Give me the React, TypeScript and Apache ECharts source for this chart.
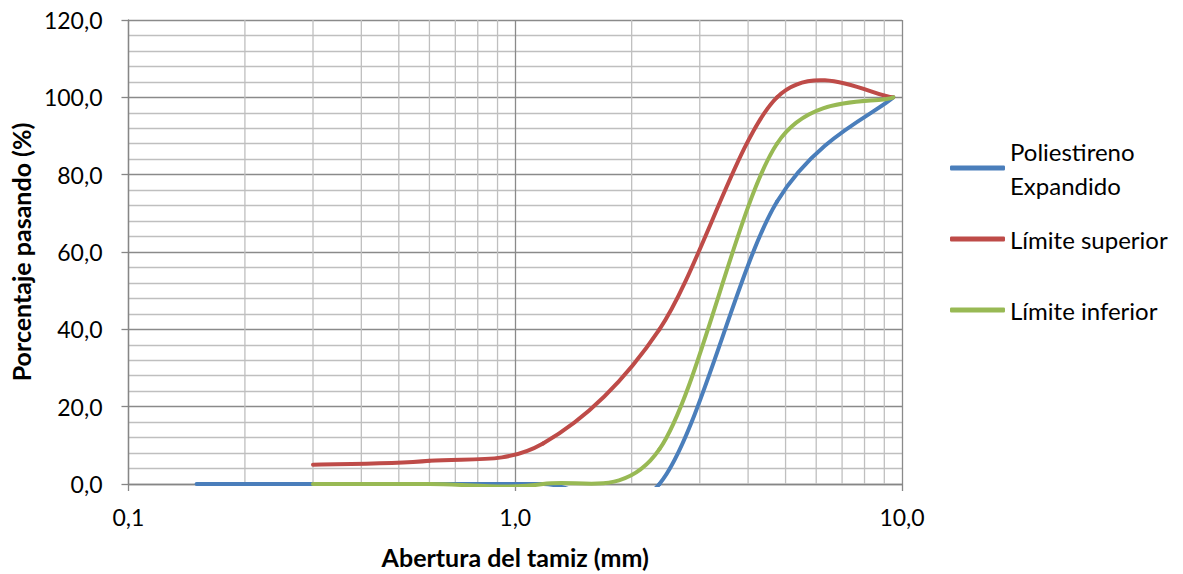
import React, { useEffect, useRef } from "react";
import * as echarts from "echarts";

// Sieve openings (mm) and percentage passing for each curve
const sieveOpenings = [0.15, 0.3, 0.6, 1.18, 2.36, 4.75, 9.5];
const poliestireno = [0, 0, 0, 0, 0, 73, 100];
const limiteSuperiorSieves = [0.3, 0.6, 1.18, 2.36, 4.75, 9.5];
const limiteSuperior = [5, 6, 10.5, 40, 100, 100];
const limiteInferiorSieves = [0.3, 0.6, 1.18, 2.36, 4.75, 9.5];
const limiteInferior = [0, 0, 0, 9, 88, 100];

// Secondary vertical grid positions on the log axis
const minorX = [0.2, 0.3, 0.4, 0.5, 0.6, 0.7, 0.8, 0.9, 2, 3, 4, 5, 6, 7, 8, 9];

const FONT = "Lato";
const fmt = (v: number) => v.toFixed(1).replace(".", ",");
const pairs = (xs: number[], ys: number[]) => xs.map((x, i) => [x, ys[i]]);
const dist = (a: number[], b: number[]) => Math.hypot(a[0] - b[0], a[1] - b[1]);

// Smoothed scatter line: one cubic Bezier per segment, control arms taken from
// the neighbouring points (1/6 of the neighbour chord, limited to half the segment).
function smoothCurveSeries(name: string, data: number[][], color: string) {
  return {
    name,
    type: "custom",
    z: 3,
    clip: false,
    silent: true,
    itemStyle: { color },
    data,
    renderItem: (params: any, api: any) => {
      const i = params.dataIndex;
      const n = data.length;
      if (i >= n - 1) return null;
      const pt = (k: number) => api.coord(data[Math.max(0, Math.min(n - 1, k))]);
      const p0 = pt(i - 1);
      const p1 = pt(i);
      const p2 = pt(i + 1);
      const p3 = pt(i + 2);
      const d12 = dist(p1, p2);
      const d02 = dist(p0, p2);
      const d13 = dist(p1, p3);
      const f1 = d02 > 0 ? Math.min(1 / 6, d12 / (2 * d02)) : 0;
      const f2 = d13 > 0 ? Math.min(1 / 6, d12 / (2 * d13)) : 0;
      const cs = params.coordSys;
      return {
        type: "bezierCurve",
        shape: {
          x1: p1[0],
          y1: p1[1],
          x2: p2[0],
          y2: p2[1],
          cpx1: p1[0] + (p2[0] - p0[0]) * f1,
          cpy1: p1[1] + (p2[1] - p0[1]) * f1,
          cpx2: p2[0] - (p3[0] - p1[0]) * f2,
          cpy2: p2[1] - (p3[1] - p1[1]) * f2,
        },
        // plot-area clip, with room for the stroke along the zero line
        clipPath: {
          type: "rect",
          shape: { x: cs.x - 4, y: cs.y - 4, width: cs.width + 8, height: cs.height + 7 },
        },
        style: { stroke: color, lineWidth: 4, fill: null, lineCap: "round" },
      };
    },
  };
}

export default function App() {
  const ref = useRef<HTMLDivElement>(null);

  useEffect(() => {
    if (!ref.current) return;
    const chart = echarts.init(ref.current, undefined, { renderer: "svg" });

    const legendText = { fontFamily: FONT, fontSize: 24, color: "#000", lineHeight: 34 };
    const legendBase = {
      orient: "vertical",
      left: 950,
      padding: 0,
      itemWidth: 55,
      itemHeight: 5,
      icon: "roundRect",
      selectedMode: false,
    };
    const axisTitle = { fontFamily: FONT, fontSize: 25, fontWeight: "bold", color: "#000" };
    const tickLabel = { fontFamily: FONT, fontSize: 23, color: "#000" };
    const axisLine = { show: true, lineStyle: { color: "#868686", width: 1.3 } };
    const axisTick = { show: true, inside: false, length: 7, lineStyle: { color: "#868686", width: 1.3 } };

    chart.setOption({
      animation: false,
      backgroundColor: "#ffffff",
      textStyle: { fontFamily: FONT },
      grid: { left: 128, right: 281, top: 20, bottom: 88, containLabel: false },
      legend: [
        {
          ...legendBase,
          top: 117,
          data: ["Poliestireno Expandido"],
          formatter: () => "Poliestireno\nExpandido",
          textStyle: { ...legendText, padding: [34, 0, 0, 0] },
        },
        { ...legendBase, top: 222, data: ["Límite superior"], textStyle: legendText },
        { ...legendBase, top: 293, data: ["Límite inferior"], textStyle: legendText },
      ],
      xAxis: {
        type: "log",
        logBase: 10,
        min: 0.1,
        max: 10,
        name: "Abertura del tamiz (mm)",
        nameLocation: "middle",
        nameGap: 60,
        nameTextStyle: axisTitle,
        axisLine,
        axisTick,
        axisLabel: { ...tickLabel, margin: 21, formatter: (v: number) => fmt(v) },
        splitLine: { show: true, lineStyle: { color: "#8a8a8a", width: 1.3 } },
      },
      yAxis: {
        type: "value",
        min: 0,
        max: 120,
        interval: 20,
        name: "Porcentaje pasando (%)",
        nameLocation: "middle",
        nameRotate: 90,
        nameGap: 92,
        nameTextStyle: axisTitle,
        axisLine,
        axisTick,
        axisLabel: { ...tickLabel, margin: 26, formatter: (v: number) => fmt(v) },
        splitLine: { show: true, lineStyle: { color: "#8a8a8a", width: 1.3 } },
        minorTick: { show: false, splitNumber: 5 },
        minorSplitLine: { show: true, lineStyle: { color: "#bfbfbf", width: 1.3 } },
      },
      series: [
        {
          name: "grid-minor-x",
          type: "custom",
          z: 1,
          silent: true,
          data: minorX.map((x) => [x, 0]),
          renderItem: (_params: any, api: any) => {
            const x = api.value(0);
            const p1 = api.coord([x, 0]);
            const p2 = api.coord([x, 120]);
            return {
              type: "line",
              shape: { x1: p1[0], y1: p1[1], x2: p2[0], y2: p2[1] },
              style: { stroke: "#bfbfbf", lineWidth: 1.3 },
            };
          },
        },
        smoothCurveSeries("Poliestireno Expandido", pairs(sieveOpenings, poliestireno), "#4a7ebb"),
        smoothCurveSeries("Límite superior", pairs(limiteSuperiorSieves, limiteSuperior), "#be4b48"),
        smoothCurveSeries("Límite inferior", pairs(limiteInferiorSieves, limiteInferior), "#98b954"),
      ],
    });

    return () => chart.dispose();
  }, []);

  return <div ref={ref} style={{ position: "absolute", left: 0, top: 0, width: 1183, height: 574 }} />;
}
